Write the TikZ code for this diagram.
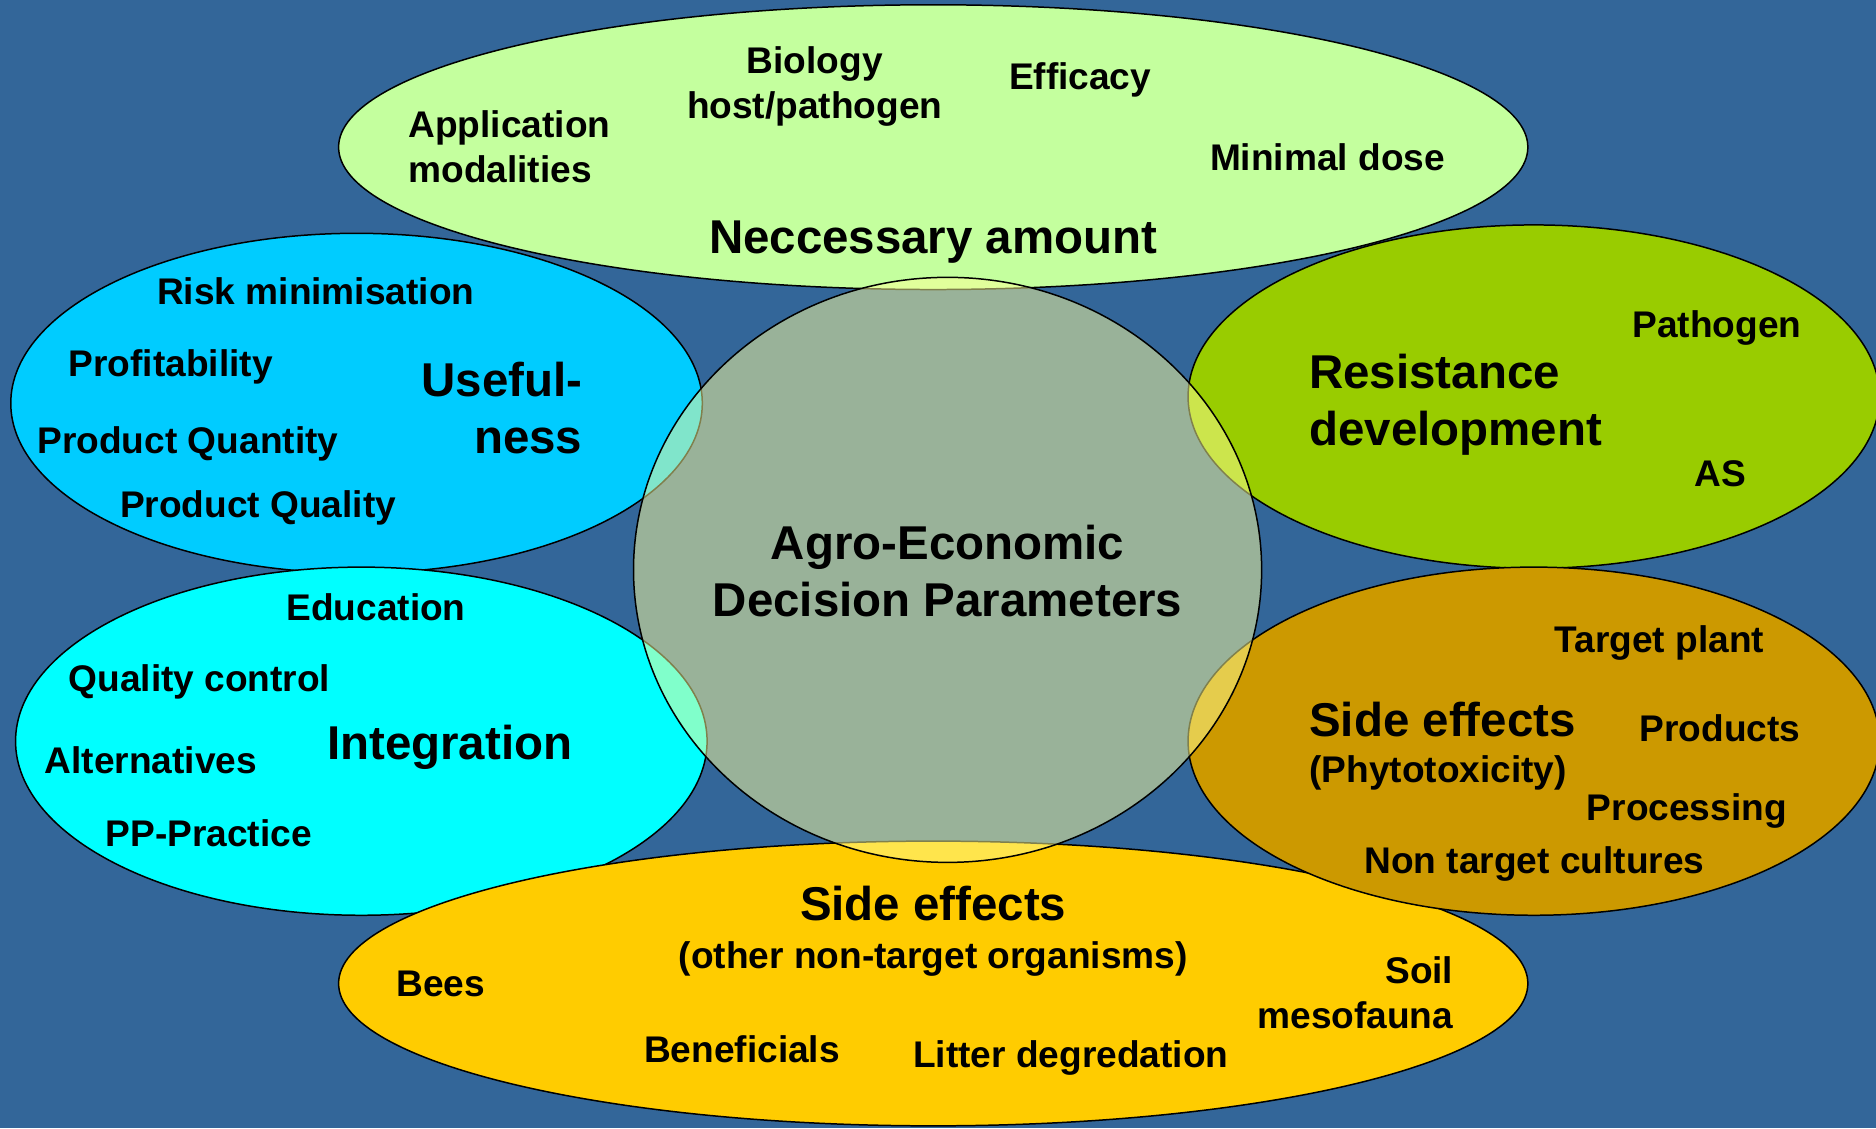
\documentclass[tikz,border=0pt]{standalone}
\usepackage{fontspec}
\setmainfont{Liberation Sans}
\usetikzlibrary{shapes.geometric}
\definecolor{slide}{RGB}{51,102,153}
\definecolor{amountc}{RGB}{196,255,158}
\definecolor{usec}{RGB}{0,204,255}
\definecolor{integc}{RGB}{0,255,255}
\definecolor{resistc}{RGB}{153,204,0}
\definecolor{phytoc}{RGB}{204,153,0}
\definecolor{otherc}{RGB}{255,204,0}
\definecolor{corec}{RGB}{255,255,153}
\tikzset{
  blob/.style={ellipse, draw=black, line width=0.75pt, inner sep=0pt, outer sep=0pt},
  head/.style={inner sep=0pt, font=\fontsize{23.8}{28.6}\selectfont\bfseries},
  item/.style={inner sep=0pt, font=\fontsize{18.6}{22.5}\selectfont\bfseries},
}

\begin{document}
\begin{tikzpicture}[x=0.6pt, y=-0.6pt]
  \fill[slide] (0,0) rectangle (1568,943);
  \useasboundingbox (0,0) rectangle (1568,943);

  \node[blob, fill=amountc, minimum width=596.4pt, minimum height=142.8pt] (amount) at (780,123) {};
  \node[blob, fill=usec, minimum width=346.8pt, minimum height=170.4pt] (use) at (298,337) {};
  \node[blob, fill=integc, minimum width=346.8pt, minimum height=174.6pt] (integ) at (302,619.5) {};
  \node[blob, fill=otherc, minimum width=596.4pt, minimum height=142.8pt] (other) at (780,822) {};
  \node[blob, fill=resistc, minimum width=346.8pt, minimum height=172.2pt] (resist) at (1282,331.5) {};
  \node[blob, fill=phytoc, minimum width=346.8pt, minimum height=174.6pt] (phyto) at (1282,619.5) {};
  \node[blob, fill=corec, fill opacity=0.5, minimum width=315pt, minimum height=293.4pt] (core) at (792,476.3) {};

  \node[item, anchor=base west, align=left] (appmod) at (341,152.7) {Application\\modalities};
  \node[item, anchor=base, align=center] (biology) at (681,98.9) {Biology\\host/pathogen};
  \node[item, anchor=base west] (efficacy) at (843,74.7) {Efficacy};
  \node[item, anchor=base west] (mindose) at (1011,142.1) {Minimal dose};
  \node[head, anchor=base] (amounttxt) at (780,211.7) {Neccessary amount};

  \node[item, anchor=base west] (risk) at (131,254.1) {Risk minimisation};
  \node[item, anchor=base west] (profit) at (57,314.8) {Profitability};
  \node[head, anchor=base east, align=right] (usetxt) at (487,378.9) {Useful-\\ness};
  \node[item, anchor=base west] (quantity) at (31,378.9) {Product Quantity};
  \node[item, anchor=base west] (quality) at (100,432.7) {Product Quality};

  \node[item, anchor=base west] (educ) at (239,519) {Education};
  \node[item, anchor=base west] (qcontrol) at (57,578) {Quality control};
  \node[head, anchor=base west] (integtxt) at (273,634.4) {Integration};
  \node[item, anchor=base west] (altern) at (37,646.4) {Alternatives};
  \node[item, anchor=base west] (practice) at (88,707.7) {PP-Practice};

  \node[head, anchor=base, align=center] (coretxt) at (792,515.4) {Agro-Economic\\Decision Parameters};

  \node[item, anchor=base west] (pathogen) at (1364,282) {Pathogen};
  \node[head, anchor=base west, align=left] (resisttxt) at (1094,372) {Resistance\\development};
  \node[item, anchor=base west] (asnode) at (1416,406.8) {AS};

  \node[item, anchor=base west] (target) at (1299,545.5) {Target plant};
  \node[head, anchor=base west] (phytotxt) at (1094,615.2) {Side effects};
  \node[item, anchor=base west] (phytosub) at (1094,654.2) {(Phytotoxicity)};
  \node[item, anchor=base west] (products) at (1370,619.4) {Products};
  \node[item, anchor=base west] (processing) at (1326,685.4) {Processing};
  \node[item, anchor=base west] (nontarget) at (1140,730) {Non target cultures};

  \node[head, anchor=base] (othertxt) at (780,769) {Side effects};
  \node[item, anchor=base] (othersub) at (780,809.4) {(other non-target organisms)};
  \node[item, anchor=base west] (bees) at (331,833) {Bees};
  \node[item, anchor=base east, align=right] (soil) at (1215,859.5) {Soil\\mesofauna};
  \node[item, anchor=base west] (benef) at (538,888.2) {Beneficials};
  \node[item, anchor=base west] (litter) at (763,892.4) {Litter degredation};
\end{tikzpicture}
\end{document}
